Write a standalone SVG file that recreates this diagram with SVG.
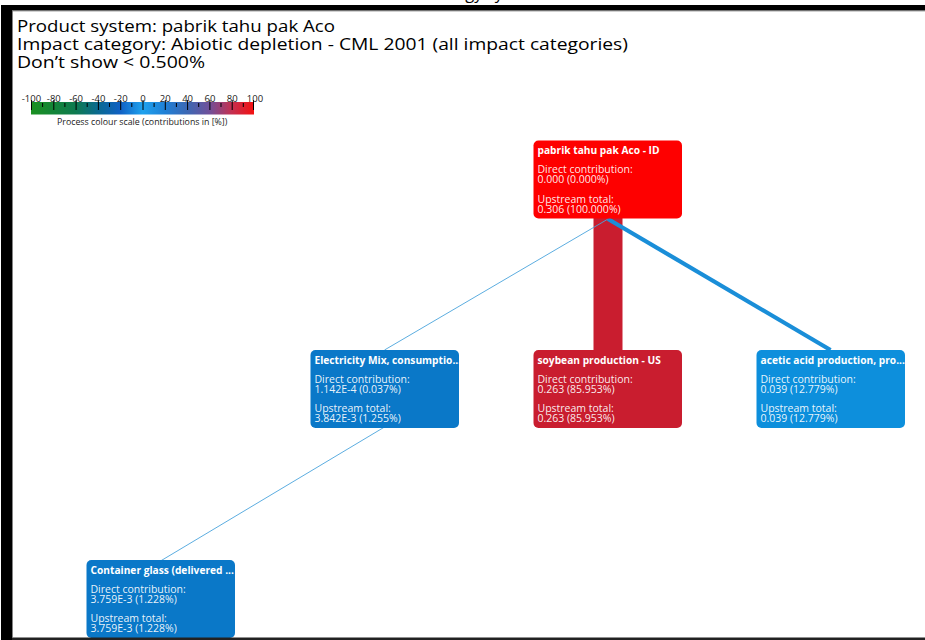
<svg xmlns="http://www.w3.org/2000/svg" width="925" height="640" viewBox="0 0 925 640">
  <defs>
    <linearGradient id="scale" x1="0" y1="0" x2="1" y2="0">
      <stop offset="0" stop-color="#1a9020"/>
      <stop offset="0.2" stop-color="#0e7a50"/>
      <stop offset="0.3" stop-color="#0a6a90"/>
      <stop offset="0.4" stop-color="#1060c4"/>
      <stop offset="0.5" stop-color="#1fa2ee"/>
      <stop offset="0.6" stop-color="#2080d6"/>
      <stop offset="0.7" stop-color="#3c68b4"/>
      <stop offset="0.8" stop-color="#70509a"/>
      <stop offset="0.9" stop-color="#c43050"/>
      <stop offset="1" stop-color="#f41010"/>
    </linearGradient>
    <clipPath id="clipTop"><rect x="533.5" y="140.5" width="148.5" height="78"/></clipPath>
    <clipPath id="clipElec"><rect x="310.5" y="350" width="148.5" height="78"/></clipPath>
    <clipPath id="clipSoy"><rect x="533.5" y="350" width="148.5" height="78"/></clipPath>
    <clipPath id="clipAcid"><rect x="756.5" y="350" width="148.5" height="78"/></clipPath>
    <clipPath id="clipGlass"><rect x="86.5" y="560" width="148.5" height="78"/></clipPath>
  </defs>
  <style>
    .head { font-family: "Open Sans", "Noto Sans", sans-serif; font-size: 16.5px; fill: #000; }
    .tick { font-family: "Open Sans", "Noto Sans", sans-serif; font-size: 9.5px; fill: #222; }
    .caption { font-family: "Open Sans", "Noto Sans", sans-serif; font-size: 8.8px; fill: #222; }
    .box { stroke: none; }
    .title { font-family: "Open Sans", "Noto Sans", sans-serif; font-size: 10.2px; font-weight: bold; fill: #fff; }
    .body { font-family: "Open Sans", "Noto Sans", sans-serif; font-size: 10.5px; fill: #fff; fill-opacity: 0.92; }
    .tk { stroke: #000; stroke-width: 1; }
    .link { fill: none; stroke-linecap: butt; }
  </style>

  <rect width="925" height="640" fill="#fff"/>

  <!-- window frame -->
  <rect x="1" y="5" width="924" height="5.5" fill="#000"/>
  <rect x="1" y="10.5" width="924" height="0.8" fill="#666"/>
  <rect x="1" y="5" width="11" height="635" fill="#000"/>
  <rect x="12" y="10.5" width="0.8" height="627" fill="#666"/>
  <text x="430" y="-1" class="head" font-size="19">Energy system</text>

  <!-- header -->
  <text x="17" y="32" class="head" textLength="318" lengthAdjust="spacingAndGlyphs">Product system: pabrik tahu pak Aco</text>
  <text x="17" y="49.5" class="head" textLength="611" lengthAdjust="spacingAndGlyphs">Impact category: Abiotic depletion - CML 2001 (all impact categories)</text>
  <text x="17" y="67.5" class="head" textLength="188" lengthAdjust="spacingAndGlyphs">Don’t show &lt; 0.500%</text>

  <!-- colour scale legend -->
  <g id="legend">
    <rect x="31" y="102" width="223" height="12.5" fill="url(#scale)"/>
    <g class="tk">
      <line x1="31.5" y1="100" x2="31.5" y2="110"/>
      <line x1="53.8" y1="100" x2="53.8" y2="110"/>
      <line x1="76.1" y1="100" x2="76.1" y2="110"/>
      <line x1="98.4" y1="100" x2="98.4" y2="110"/>
      <line x1="120.7" y1="100" x2="120.7" y2="110"/>
      <line x1="143" y1="100" x2="143" y2="110"/>
      <line x1="165.3" y1="100" x2="165.3" y2="110"/>
      <line x1="187.6" y1="100" x2="187.6" y2="110"/>
      <line x1="209.9" y1="100" x2="209.9" y2="110"/>
      <line x1="232.2" y1="100" x2="232.2" y2="110"/>
      <line x1="253.5" y1="100" x2="253.5" y2="110"/>
      <line x1="42.6" y1="103" x2="42.6" y2="107"/>
      <line x1="64.9" y1="103" x2="64.9" y2="107"/>
      <line x1="87.2" y1="103" x2="87.2" y2="107"/>
      <line x1="109.5" y1="103" x2="109.5" y2="107"/>
      <line x1="131.8" y1="103" x2="131.8" y2="107"/>
      <line x1="154.1" y1="103" x2="154.1" y2="107"/>
      <line x1="176.4" y1="103" x2="176.4" y2="107"/>
      <line x1="198.7" y1="103" x2="198.7" y2="107"/>
      <line x1="221" y1="103" x2="221" y2="107"/>
      <line x1="243.3" y1="103" x2="243.3" y2="107"/>
    </g>
    <g class="tick" text-anchor="middle">
      <text x="31.5" y="101.5">-100</text>
      <text x="53.8" y="101.5">-80</text>
      <text x="76.1" y="101.5">-60</text>
      <text x="98.4" y="101.5">-40</text>
      <text x="120.7" y="101.5">-20</text>
      <text x="143" y="101.5">0</text>
      <text x="165.3" y="101.5">20</text>
      <text x="187.6" y="101.5">40</text>
      <text x="209.9" y="101.5">60</text>
      <text x="232.2" y="101.5">80</text>
      <text x="255" y="101.5">100</text>
    </g>
    <text x="57" y="125" class="caption">Process colour scale (contributions in [%])</text>
  </g>

  <!-- connectors -->
  <g id="links">
    <rect x="593.5" y="210" width="29" height="145" fill="#c91d2f"/>
    <line class="link" x1="608" y1="219" x2="384.5" y2="350" stroke="#4aa4dc" stroke-width="0.9"/>
    <line class="link" x1="608" y1="219" x2="830.5" y2="350" stroke="#1a8ed8" stroke-width="4.2"/>
    <line class="link" x1="384.5" y1="427" x2="160.5" y2="561" stroke="#4aa4dc" stroke-width="0.9"/>
  </g>

  <!-- process nodes -->
  <g id="node-pabrik-tahu">
    <rect class="box" x="533.5" y="140.5" width="148.5" height="78" rx="5" fill="#fe0000"/>
    <g clip-path="url(#clipTop)">
      <text x="537.5" y="154" class="title">pabrik tahu pak Aco - ID</text>
      <text x="537.5" y="173" class="body">Direct contribution:</text>
      <text x="537.5" y="183" class="body">0.000 (0.000%)</text>
      <text x="537.5" y="202.5" class="body">Upstream total:</text>
      <text x="537.5" y="212.5" class="body">0.306 (100.000%)</text>
    </g>
  </g>

  <g id="node-electricity">
    <rect class="box" x="310.5" y="350" width="148.5" height="78" rx="5" fill="#0a78c8"/>
    <g clip-path="url(#clipElec)">
      <text x="314.5" y="363.5" class="title">Electricity Mix, consumptio...</text>
      <text x="314.5" y="382.5" class="body">Direct contribution:</text>
      <text x="314.5" y="392.5" class="body">1.142E-4 (0.037%)</text>
      <text x="314.5" y="412" class="body">Upstream total:</text>
      <text x="314.5" y="422" class="body">3.842E-3 (1.255%)</text>
    </g>
  </g>

  <g id="node-soybean">
    <rect class="box" x="533.5" y="350" width="148.5" height="78" rx="5" fill="#c91d2f"/>
    <g clip-path="url(#clipSoy)">
      <text x="537.5" y="363.5" class="title">soybean production - US</text>
      <text x="537.5" y="382.5" class="body">Direct contribution:</text>
      <text x="537.5" y="392.5" class="body">0.263 (85.953%)</text>
      <text x="537.5" y="412" class="body">Upstream total:</text>
      <text x="537.5" y="422" class="body">0.263 (85.953%)</text>
    </g>
  </g>

  <g id="node-acetic-acid">
    <rect class="box" x="756.5" y="350" width="148.5" height="78" rx="5" fill="#0d8fdc"/>
    <g clip-path="url(#clipAcid)">
      <text x="760.5" y="363.5" class="title">acetic acid production, pro...</text>
      <text x="760.5" y="382.5" class="body">Direct contribution:</text>
      <text x="760.5" y="392.5" class="body">0.039 (12.779%)</text>
      <text x="760.5" y="412" class="body">Upstream total:</text>
      <text x="760.5" y="422" class="body">0.039 (12.779%)</text>
    </g>
  </g>

  <g id="node-container-glass">
    <rect class="box" x="86.5" y="560" width="148.5" height="78" rx="5" fill="#0a78c8"/>
    <g clip-path="url(#clipGlass)">
      <text x="90.5" y="573.5" class="title">Container glass (delivered ...</text>
      <text x="90.5" y="592.5" class="body">Direct contribution:</text>
      <text x="90.5" y="602.5" class="body">3.759E-3 (1.228%)</text>
      <text x="90.5" y="622" class="body">Upstream total:</text>
      <text x="90.5" y="632" class="body">3.759E-3 (1.228%)</text>
    </g>
  </g>

  <!-- bottom edge drawn above the last node -->
  <rect x="12" y="637.5" width="913" height="2.5" fill="#222"/>
</svg>
